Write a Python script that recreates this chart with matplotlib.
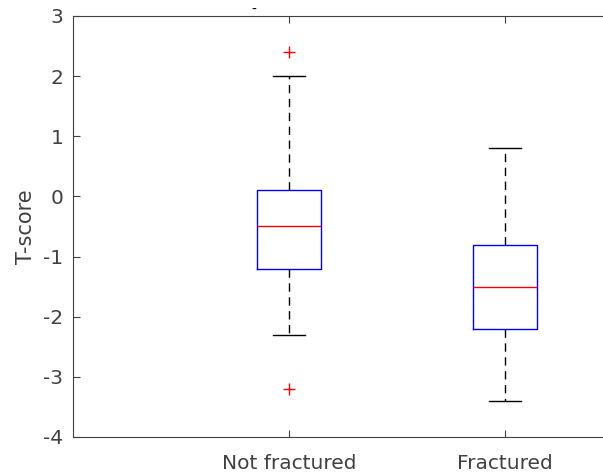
import matplotlib
matplotlib.use("Agg")
import matplotlib.pyplot as plt

# group names and box statistics
groups = ["Not fractured", "Fractured"]
medians = [-0.5, -1.5]
q1 = [-1.2, -2.2]
q3 = [0.1, -0.8]
whisk_lo = [-2.3, -3.4]
whisk_hi = [2.0, 0.8]
outliers = [[2.4, -3.2], []]

stats = []
for i in range(len(groups)):
    stats.append({
        "label": groups[i],
        "med": medians[i],
        "q1": q1[i],
        "q3": q3[i],
        "whislo": whisk_lo[i],
        "whishi": whisk_hi[i],
        "fliers": outliers[i],
    })

plt.rcParams['font.family'] = ['DejaVu Sans']
plt.rcParams['axes.unicode_minus'] = False
fig = plt.figure(figsize=(6.03, 4.74), dpi=100)
ax = fig.add_axes([73 / 603, 1 - 437 / 474, 1 - 73 / 603, 421 / 474])

ax.bxp(stats, positions=[1, 2], widths=0.3, showfliers=True,
       boxprops=dict(color='blue', linewidth=1),
       medianprops=dict(color='red', linewidth=1),
       whiskerprops=dict(color='black', linestyle=(0, (6, 4)), linewidth=1),
       capprops=dict(color='black', linewidth=1),
       flierprops=dict(marker='+', markeredgecolor='red', markersize=9,
                       linestyle='none'))

ax.set_xlim(0, (603 - 73) / 216)
ax.set_ylim(-4, 3)
ax.set_yticks(range(-4, 4))
ax.set_xticks([1, 2])
ax.set_xticklabels(groups)
ax.set_ylabel("T-score", color='#404040', fontsize=15, labelpad=5)

ax.tick_params(direction='in', top=True, right=False, labelsize=14.5,
               colors='#404040', length=5)
ax.tick_params(axis='y', pad=7)
ax.tick_params(axis='x', pad=12)
for s in ['left', 'bottom', 'top']:
    ax.spines[s].set_color('#404040')
ax.spines['right'].set_visible(False)

fig.text(254 / 603, 1 - 10 / 474, "-", ha='center', va='center', fontsize=10)

fig.savefig("out.png", dpi=100)
